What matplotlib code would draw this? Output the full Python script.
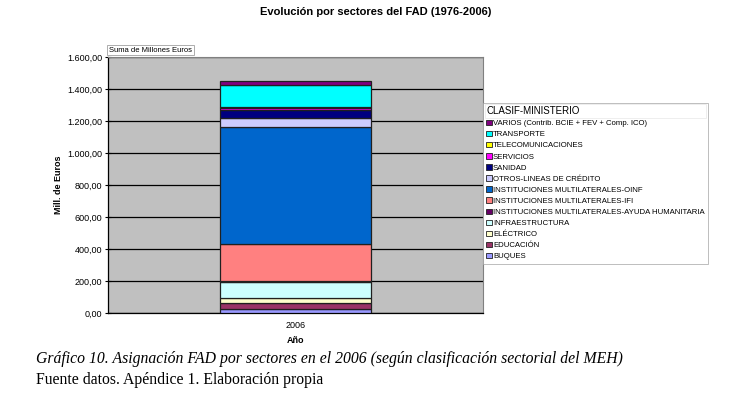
import matplotlib
matplotlib.use("Agg")
import matplotlib.pyplot as plt
from matplotlib.patches import Patch, Rectangle
from matplotlib.ticker import FuncFormatter, MultipleLocator

plt.rcParams['font.family'] = ['Liberation Sans', 'DejaVu Sans']

# datos (millones de euros, 2006), de abajo hacia arriba
sectores = ["BUQUES", "EDUCACIÓN", "ELÉCTRICO", "INFRAESTRUCTURA",
            "INSTITUCIONES MULTILATERALES-AYUDA HUMANITARIA",
            "INSTITUCIONES MULTILATERALES-IFI",
            "INSTITUCIONES MULTILATERALES-OINF",
            "OTROS-LINEAS DE CRÉDITO", "SANIDAD", "SERVICIOS",
            "TELECOMUNICACIONES", "TRANSPORTE",
            "VARIOS (Contrib. BCIE + FEV + Comp. ICO)"]
valores = [27, 34, 33, 98, 10, 227, 736, 55, 48, 12, 10, 137, 20]
colores = ["#9999FF", "#993366", "#FFFFCC", "#CCFFFF", "#660066", "#FF8080",
           "#0066CC", "#CCCCFF", "#000080", "#FF00FF", "#FFFF00", "#00FFFF",
           "#800080"]
anio = "2006"

fig = plt.figure(figsize=(7.3, 4.0), dpi=100)
ax = fig.add_axes([108/730, 1 - 313/400, 375/730, 256/400])
ax.set_facecolor("#C0C0C0")

base = 0
for v, c in zip(valores, colores):
    ax.bar(0, v, bottom=base, width=0.403, color=c, edgecolor="#202020",
           linewidth=0.9, zorder=3)
    base += v

ax.set_xlim(-0.5, 0.5)
ax.set_ylim(0, 1600)
ax.yaxis.set_major_locator(MultipleLocator(200))
ax.yaxis.set_major_formatter(FuncFormatter(
    lambda y, p: f"{y:,.2f}".replace(",", "X").replace(".", ",").replace("X", ".")))
ax.set_xticks([0])
ax.set_xticklabels([anio])
ax.grid(True, axis="y", color="black", linewidth=0.9, zorder=1)
ax.tick_params(axis="y", labelsize=6.5, direction="inout", length=4, width=0.8, pad=2)
ax.tick_params(axis="x", labelsize=6.5, length=0, pad=6)
for s in ["top", "right"]:
    ax.spines[s].set_color("#808080")
for s in ["left", "bottom"]:
    ax.spines[s].set_color("black")
    ax.spines[s].set_linewidth(0.9)

ax.set_ylabel("Mill. de Euros", fontsize=6.5, fontweight="bold", labelpad=3)
ax.set_xlabel("Año", fontsize=6.5, fontweight="bold", labelpad=4)

fig.text(376/730, 1 - 12/400, "Evolución por sectores del FAD (1976-2006)",
         ha="center", va="center", fontsize=8, fontweight="bold",
         family=["Liberation Sans Narrow", "Liberation Sans"])

fig.text(109/730, 1 - 50/400, "Suma de Millones Euros", ha="left", va="center",
         fontsize=5.5,
         bbox=dict(boxstyle="square,pad=0.25", facecolor="white",
                   edgecolor="#A0A0A0", linewidth=0.6))

handles = [Patch(facecolor=c, edgecolor="#202020", linewidth=0.6)
           for c in colores][::-1]
leg = fig.legend(handles, sectores[::-1], loc="upper left",
                 bbox_to_anchor=(483/730, 1 - 103/400), fontsize=5.6,
                 title="CLASIF-MINISTERIO", title_fontsize=7,
                 alignment="left", frameon=True, fancybox=False,
                 edgecolor="#A0A0A0", handlelength=0.7, handleheight=0.7,
                 handletextpad=0.2, labelspacing=0.47, borderpad=0.4,
                 borderaxespad=0)
leg.get_frame().set_linewidth(0.6)

fig.canvas.draw()
lb = leg.get_window_extent()
tb = leg.get_title().get_window_extent()
inv = fig.transFigure.inverted()
(x0, y0) = inv.transform((lb.x0 + 2, tb.y0 - 2))
(x1, y1) = inv.transform((lb.x1 - 2, tb.y1 + 2))
fig.patches.append(Rectangle((x0, y0), x1 - x0, y1 - y0, transform=fig.transFigure,
                             fill=False, edgecolor="#A0A0A0", linewidth=0.6))

fig.text(36/730, 1 - 359/400,
         "Gráfico 10. Asignación FAD por sectores en el 2006 (según clasificación sectorial del MEH)",
         ha="left", va="center", fontsize=11.3, style="italic",
         family=["Liberation Serif", "DejaVu Serif"])
fig.text(36/730, 1 - 380/400, "Fuente datos. Apéndice 1. Elaboración propia",
         ha="left", va="center", fontsize=11.3,
         family=["Liberation Serif", "DejaVu Serif"])

fig.savefig("out.png", dpi=100)
